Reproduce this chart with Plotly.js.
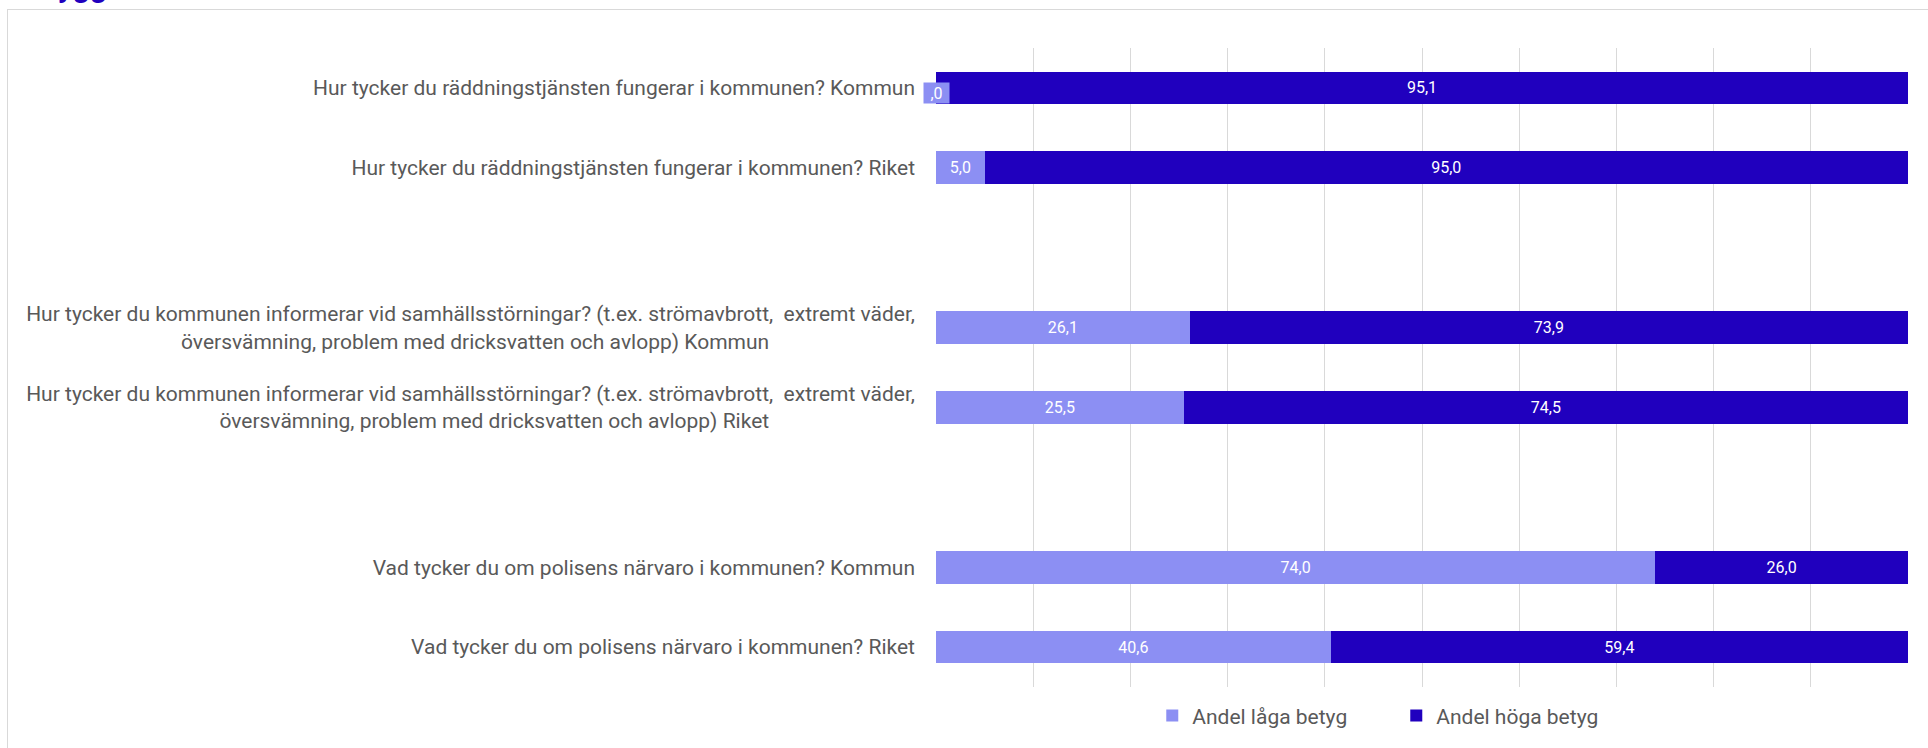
<!DOCTYPE html>
<html>
<head>
<meta charset="utf-8">
<script src="https://cdn.plot.ly/plotly-3.0.1.min.js"></script>
<style>
  html, body { margin: 0; padding: 0; background: #ffffff; overflow: hidden; }
  #chart { position: absolute; left: 0; top: 0; width: 1928px; height: 748px; }
  #frame { position: absolute; left: 7px; top: 9px; width: 1940px; height: 760px;
           border-left: 1px solid #d9d9d9; border-top: 1px solid #d9d9d9; pointer-events: none; }
</style>
</head>
<body>
<div id="chart"></div>
<div id="frame"></div>
<script>
// ---- data ----
const categories = [
  "Hur tycker du räddningstjänsten fungerar i kommunen? Kommun",
  "Hur tycker du räddningstjänsten fungerar i kommunen? Riket",
  " ",
  "Hur tycker du kommunen informerar vid samhällsstörningar? (t.ex. strömavbrott,  extremt väder,<br>översvämning, problem med dricksvatten och avlopp) Kommun",
  "Hur tycker du kommunen informerar vid samhällsstörningar? (t.ex. strömavbrott,  extremt väder,<br>översvämning, problem med dricksvatten och avlopp) Riket",
  "  ",
  "Vad tycker du om polisens närvaro i kommunen? Kommun",
  "Vad tycker du om polisens närvaro i kommunen? Riket"
];
const lowShare  = [0.0, 5.0, null, 26.1, 25.5, null, 74.0, 40.6];
const highShare = [95.1, 95.0, null, 73.9, 74.5, null, 26.0, 59.4];
const seriesNames = ["Andel låga betyg", "Andel höga betyg"];
const headingText = "Trygghet";

// ---- styles ----
const LIGHT = "#8c8ff3";
const DARK = "#2000be";
const GREY = "#595959";
const FONT = "Roboto, 'Open Sans', sans-serif";

function fmt(v) {
  if (v === null || v === undefined) return "";
  let s = v.toFixed(1).replace(".", ",");
  if (s.startsWith("0,")) s = s.slice(1);
  return s;
}

// tick labels: second line of wrapped labels padded so it sits centred under the first
const PAD = "\u00A0".repeat(28);
const tickLabels = categories.map(c => c.includes("<br>") ? c + PAD : c);

const traceLow = {
  type: "bar", orientation: "h", name: seriesNames[0],
  y: categories, x: lowShare,
  marker: { color: LIGHT },
  text: lowShare.map(v => (v ? fmt(v) : "")),
  textposition: "inside", insidetextanchor: "middle", textangle: 0,
  textfont: { family: FONT, size: 16, color: "#ffffff" },
  hoverinfo: "skip"
};
const traceHigh = {
  type: "bar", orientation: "h", name: seriesNames[1],
  y: categories, x: highShare,
  marker: { color: DARK },
  text: highShare.map(v => (v ? fmt(v) : "")),
  textposition: "inside", insidetextanchor: "middle", textangle: 0,
  textfont: { family: FONT, size: 16, color: "#ffffff" },
  hoverinfo: "skip"
};

// labels for zero-valued low bars (drawn as boxed labels at the axis)
const zeroAnnotations = [];
lowShare.forEach((v, i) => {
  if (v === 0) {
    zeroAnnotations.push({
      x: 0, y: categories[i], xref: "x", yref: "y",
      text: fmt(v), showarrow: false,
      bgcolor: LIGHT, width: 23, height: 18,
      font: { family: FONT, size: 16, color: "#ffffff" },
      xanchor: "center", yanchor: "middle", yshift: -5
    });
  }
});

const layout = {
  width: 1928, height: 748,
  paper_bgcolor: "#ffffff", plot_bgcolor: "#ffffff",
  margin: { l: 936, r: 20, t: 48, b: 52, pad: 0 },
  barmode: "stack", barnorm: "percent", bargap: 0.59,
  font: { family: FONT, color: GREY },
  showlegend: true,
  xaxis: {
    range: [0, 100], dtick: 10, showticklabels: false,
    showgrid: true, gridcolor: "#d9d9d9", gridwidth: 1,
    zeroline: false, showline: false, ticks: "", fixedrange: true
  },
  yaxis: {
    type: "category", autorange: "reversed",
    tickmode: "array", tickvals: categories, ticktext: tickLabels,
    tickfont: { family: FONT, size: 21, color: GREY },
    ticks: "", showgrid: false, zeroline: false, showline: false,
    ticklabelstandoff: 20, fixedrange: true
  },
  legend: {
    orientation: "h", traceorder: "normal",
    x: 0.2225, xanchor: "left", y: -0.045, yanchor: "middle",
    font: { family: FONT, size: 21, color: GREY },
    entrywidth: 199, entrywidthmode: "pixels",
    bgcolor: "rgba(0,0,0,0)"
  },
  annotations: zeroAnnotations.concat([{
    xref: "paper", yref: "paper", x: -0.935, y: 1.0665, xanchor: "left", yanchor: "bottom",
    text: "<b>" + headingText + "</b>", showarrow: false,
    font: { family: FONT, size: 30, color: DARK }
  }])
};

Plotly.newPlot("chart", [traceLow, traceHigh], layout, { displayModeBar: false, staticPlot: true });
</script>
</body>
</html>
